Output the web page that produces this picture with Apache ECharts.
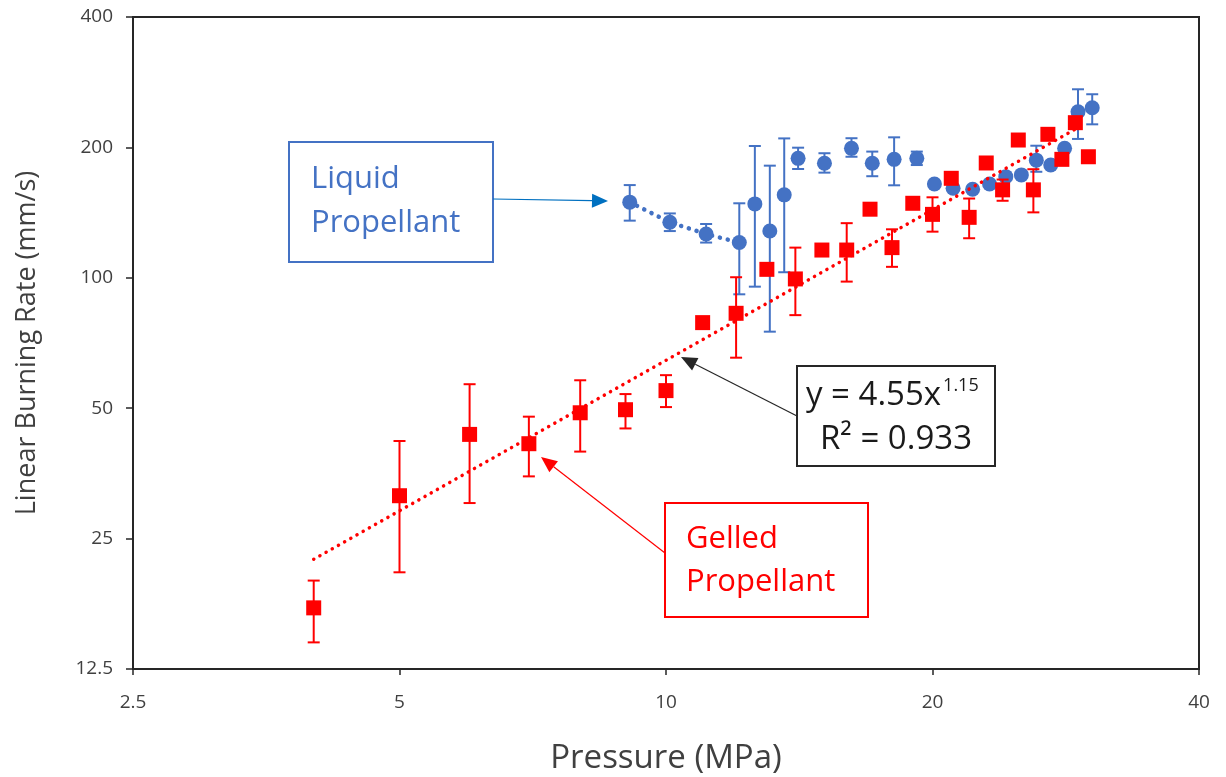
<!DOCTYPE html>
<html>
<head>
<meta charset="utf-8">
<script src="https://cdn.jsdelivr.net/npm/echarts@6/dist/echarts.min.js"></script>
<style>
  html, body { margin: 0; padding: 0; background: #fff; }
  #chart { width: 1226px; height: 777px; }
</style>
</head>
<body>
<div id="chart"></div>
<script>
// ---------- data ----------
const xTickLabels = ['2.5', '5', '10', '20', '40'];
const yTickLabels = ['12.5', '25', '50', '100', '200', '400'];

// Gelled propellant (red squares)
const gelP    = [4, 5, 6, 7, 8, 9, 10, 11, 12, 13, 14, 15, 16, 17, 18, 19, 20, 21, 22, 23, 24, 25, 26, 27, 28, 29, 30];
const gelRate = [17.3, 31.4, 43.5, 41.4, 48.8, 49.6, 54.9, 78.8, 82.8, 104.6, 99.4, 115.9, 115.9, 144.0, 117.4, 148.6, 140.1, 169.7, 137.9, 184.1, 159.6, 208.0, 159.6, 214.4, 187.7, 228.1, 190.3];
const gelLow  = [14.4, 20.9, 30.2, 34.8, 39.7, 44.9, 50.3, null, 65.4, null, 82.0, null, 98.0, null, 106.0, null, 127.8, null, 123.4, null, 150.6, null, 141.6, null, null, null, null];
const gelHigh = [20.0, 42.0, 56.8, 47.8, 58.0, 53.9, 59.6, null, 100.3, null, 117.4, null, 133.7, null, 129.4, null, 153.4, null, 152.4, null, 168.6, null, 178.1, null, null, null, null];

// Liquid propellant (blue circles)
const liqP    = [9.1, 10.1, 11.1, 12.1, 12.6, 13.1, 13.6, 14.1, 15.1, 16.2, 17.1, 18.1, 19.2, 20.1, 21.1, 22.2, 23.2, 24.2, 25.2, 26.2, 27.2, 28.2, 29.2, 30.3];
const liqRate = [149.5, 134.3, 126.2, 120.6, 148.1, 128.2, 155.4, 188.7, 183.8, 199.0, 183.8, 187.7, 188.7, 164.6, 161.0, 160.1, 164.6, 171.2, 172.8, 186.9, 182.1, 199.0, 241.8, 247.0];
const liqLow  = [135.5, 128.2, 120.6, 91.6, 95.4, 75.1, 103.0, 178.3, 174.9, 190.3, 171.6, 163.5, 182.1, null, null, null, null, null, null, 175.7, null, null, 209.2, 226.1];
const liqHigh = [163.7, 140.8, 133.1, 148.6, 201.5, 181.5, 209.8, 199.7, 193.9, 210.0, 195.6, 211.0, 195.6, null, null, null, null, null, null, 201.8, null, null, 272.4, 265.3];

// dotted connector through the first liquid points
const liqLineCount = 4;

// power-law trend line of the gelled data (end points)
const trendP    = [4, 29.3];
const trendRate = [22.4, 223];

// ---------- helpers: log2 transforms onto value axes ----------
const X0 = 2.5, Y0 = 12.5;
const tx = v => Math.log2(v / X0);
const ty = v => Math.log2(v / Y0);

const RED = '#FF0000';
const BLUE = '#4472C4';
const FONT = "'Open Sans', 'Noto Sans', sans-serif";

function pts(xs, ys) { return xs.map((x, i) => [tx(x), ty(ys[i])]); }
function errs(xs, lo, hi) {
  const out = [];
  xs.forEach((x, i) => { if (lo[i] != null && hi[i] != null) out.push([tx(x), ty(lo[i]), ty(hi[i])]); });
  return out;
}
function errRenderer(color) {
  return function (params, api) {
    const x = api.value(0);
    const a = api.coord([x, api.value(1)]);
    const b = api.coord([x, api.value(2)]);
    const w = 6;
    const style = { stroke: color, lineWidth: 2 };
    return {
      type: 'group',
      children: [
        { type: 'line', shape: { x1: a[0], y1: a[1], x2: b[0], y2: b[1] }, style },
        { type: 'line', shape: { x1: a[0] - w, y1: a[1], x2: a[0] + w, y2: a[1] }, style },
        { type: 'line', shape: { x1: b[0] - w, y1: b[1], x2: b[0] + w, y2: b[1] }, style }
      ]
    };
  };
}
function arrow(x1, y1, x2, y2, color, lw, head) {
  const ang = Math.atan2(y2 - y1, x2 - x1);
  const L = head || 15, W = 7;
  const bx = x2 - L * Math.cos(ang), by = y2 - L * Math.sin(ang);
  const nx = -Math.sin(ang) * W, ny = Math.cos(ang) * W;
  return [
    { type: 'line', z: 100, shape: { x1, y1, x2: bx, y2: by }, style: { stroke: color, lineWidth: lw } },
    { type: 'polygon', z: 100, shape: { points: [[x2, y2], [bx + nx, by + ny], [bx - nx, by - ny]] }, style: { fill: color } }
  ];
}
function textWidth(str, font) {
  const c = document.createElement('canvas').getContext('2d');
  c.font = font;
  return c.measureText(str).width;
}

const EQ_FONT = '33px ' + FONT;
const eqMain = 'y = 4.55x';
const eqX = 806;
const eqSupX = eqX + textWidth(eqMain, EQ_FONT) + 2;

const chart = echarts.init(document.getElementById('chart'), null, { renderer: 'canvas' });

const option = {
  animation: false,
  backgroundColor: '#fff',
  textStyle: { fontFamily: FONT },
  grid: { left: 133, right: 27, top: 17, bottom: 108, containLabel: false, outerBoundsMode: 'none',
          show: true, borderColor: '#262626', borderWidth: 2, backgroundColor: 'transparent' },
  xAxis: {
    type: 'value', min: 0, max: 4, interval: 1,
    name: 'Pressure (MPa)', nameLocation: 'middle', nameGap: 73,
    nameTextStyle: { fontSize: 33, color: '#404040', fontFamily: FONT },
    axisLine: { show: true, onZero: false, lineStyle: { color: '#262626', width: 2 } },
    axisTick: { show: true, length: 6, lineStyle: { color: '#262626', width: 1.5 } },
    axisLabel: { fontSize: 19, color: '#404040', margin: 24, fontFamily: FONT, formatter: v => xTickLabels[Math.round(v)] },
    splitLine: { show: false }
  },
  yAxis: {
    type: 'value', min: 0, max: 5, interval: 1,
    name: 'Linear Burning Rate (mm/s)', nameLocation: 'middle', nameGap: 92,
    nameTextStyle: { fontSize: 27, color: '#404040', fontFamily: FONT },
    axisLine: { show: true, onZero: false, lineStyle: { color: '#262626', width: 2 } },
    axisTick: { show: true, length: 7, lineStyle: { color: '#262626', width: 1.5 } },
    axisLabel: { fontSize: 19, color: '#404040', margin: 20, fontFamily: FONT, formatter: v => yTickLabels[Math.round(v)] },
    splitLine: { show: false }
  },
  series: [
    { type: 'line', name: 'liquidLine', data: pts(liqP.slice(0, liqLineCount), liqRate.slice(0, liqLineCount)),
      symbol: 'none', z: 2,
      lineStyle: { color: BLUE, width: 4.5, type: [0.1, 8], cap: 'round' } },
    { type: 'custom', name: 'liquidErr', renderItem: errRenderer(BLUE), data: errs(liqP, liqLow, liqHigh), z: 3 },
    { type: 'scatter', name: 'Liquid Propellant', data: pts(liqP, liqRate), symbol: 'circle', symbolSize: 15,
      itemStyle: { color: BLUE, opacity: 1 }, z: 4 },
    { type: 'custom', name: 'gelErr', renderItem: errRenderer(RED), data: errs(gelP, gelLow, gelHigh), z: 5 },
    { type: 'scatter', name: 'Gelled Propellant', data: pts(gelP, gelRate), symbol: 'rect', symbolSize: 15,
      itemStyle: { color: RED, opacity: 1 }, z: 6 },
    { type: 'line', name: 'trend', data: pts(trendP, trendRate), symbol: 'none', z: 7,
      lineStyle: { color: RED, width: 3.5, type: [0.1, 7], cap: 'round' } }
  ],
  graphic: [
    // Liquid Propellant label
    { type: 'rect', z: 100, shape: { x: 289, y: 142, width: 204, height: 120 }, style: { fill: '#fff', stroke: BLUE, lineWidth: 2 } },
    { type: 'text', z: 101, x: 311, y: 157, style: { text: 'Liquid\nPropellant', fill: BLUE, font: '31px ' + FONT, lineHeight: 44 } },
    ...arrow(493, 199, 608, 201, '#0070C0', 1.2, 16),
    // equation label
    { type: 'rect', z: 100, shape: { x: 797, y: 366, width: 198, height: 100 }, style: { fill: '#fff', stroke: '#262626', lineWidth: 2 } },
    { type: 'text', z: 101, x: eqX, y: 396, style: { text: eqMain, fill: '#1a1a1a', font: EQ_FONT, textVerticalAlign: 'middle' } },
    { type: 'text', z: 101, x: eqSupX, y: 386, style: { text: '1.15', fill: '#1a1a1a', font: '18px ' + FONT, textVerticalAlign: 'middle' } },
    { type: 'text', z: 101, x: 896, y: 440, style: { text: 'R² = 0.933', fill: '#1a1a1a', font: EQ_FONT, textAlign: 'center', textVerticalAlign: 'middle' } },
    ...arrow(797, 416, 681, 357, '#262626', 1.2, 16),
    // Gelled Propellant label
    { type: 'rect', z: 100, shape: { x: 665, y: 503, width: 203, height: 114 }, style: { fill: '#fff', stroke: RED, lineWidth: 2 } },
    { type: 'text', z: 101, x: 686, y: 518, style: { text: 'Gelled\nPropellant', fill: RED, font: '31px ' + FONT, lineHeight: 43 } },
    ...arrow(665, 553, 541, 457, RED, 1.2, 16)
  ]
};
chart.setOption(option);
</script>
</body>
</html>
